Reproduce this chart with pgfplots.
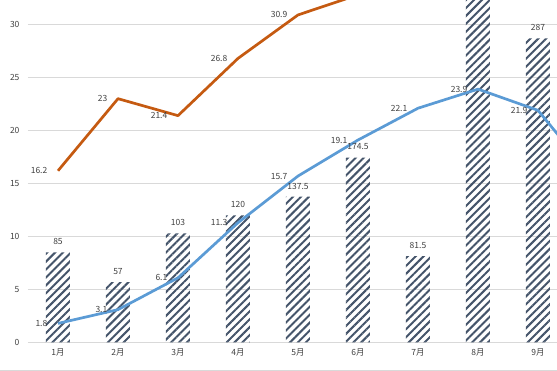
\documentclass[border=0pt]{standalone}
\usepackage{fontspec}
\setmainfont{Noto Sans CJK SC}
\usepackage{pgfplots}
\pgfplotsset{compat=1.18}
\usepackage{pgfplotstable}
\usetikzlibrary{patterns.meta}
\definecolor{orangeL}{HTML}{C55A11}
\definecolor{blueL}{HTML}{5B9BD5}
\definecolor{barC}{HTML}{44546A}
\definecolor{gridC}{HTML}{D9D9D9}
\definecolor{txt}{HTML}{404040}

\pgfplotstableread{
x v
1 85
2 57
3 103
4 120
5 137.5
6 174.5
7 81.5
8 340
9 287
}\bars
\pgfplotstableread{
x y
1 16.2
2 23
3 21.4
4 26.8
5 30.9
6 32.8
7 34.5
8 34.0
9 33.0
}\orangeT
\pgfplotstableread{
x y
1 1.8
2 3.1
3 6.1
4 11.3
5 15.7
6 19.1
7 22.1
8 23.9
9 21.9
10 15
}\blueT

\begin{document}
\begin{tikzpicture}
\path[use as bounding box, clip] (0pt,0pt) rectangle (557pt,371pt);
\draw[gridC, line width=0.8pt] (0pt,1pt) -- (557pt,1pt);
\begin{axis}[
  at={(28pt,28.5pt)}, anchor=south west,
  scale only axis, width=529pt, height=342.5pt,
  xmin=0.5, xmax=9.3167, ymin=0, ymax=32.31,
  ytick={0,5,...,30},
  xtick={1,...,9},
  xticklabels={1月,2月,3月,4月,5月,6月,7月,8月,9月},
  ymajorgrids,
  grid style={gridC, line width=0.8pt},
  axis line style={draw=none},
  major tick length=0pt,
  tick label style={font=\fontsize{8.5}{10}\selectfont, text=txt},
  yticklabel style={xshift=-5pt},
  xticklabel style={yshift=-3pt},
  /pgf/number format/assume math mode=true,
  clip=true,
]
\addplot[draw=none, fill=none, pattern={Lines[angle=45,distance=5.6pt,line width=2pt]}, pattern color=barC,
  ybar, bar width=24pt,
  nodes near coords={\pgfplotspointmeta}, point meta=explicit symbolic,
  nodes near coords style={font=\fontsize{8.5}{10}\selectfont, text=txt, anchor=south, yshift=4pt}]
  table[x=x, y expr=\thisrow{v}/10, meta=v] {\bars};
\addplot[orangeL, line width=2.7pt, line join=round, mark=none,
  nodes near coords={\pgfplotspointmeta}, point meta=explicit symbolic,
  nodes near coords style={font=\fontsize{8.5}{10}\selectfont, text=txt, anchor=east, xshift=-6pt}]
  table[x=x, y=y, meta=y] {\orangeT};
\addplot[blueL, line width=2.7pt, line join=round, mark=none,
  nodes near coords={\pgfplotspointmeta}, point meta=explicit symbolic,
  nodes near coords style={font=\fontsize{8.5}{10}\selectfont, text=txt, anchor=east, xshift=-6pt}]
  table[x=x, y=y, meta=y] {\blueT};
\end{axis}
\end{tikzpicture}
\end{document}
